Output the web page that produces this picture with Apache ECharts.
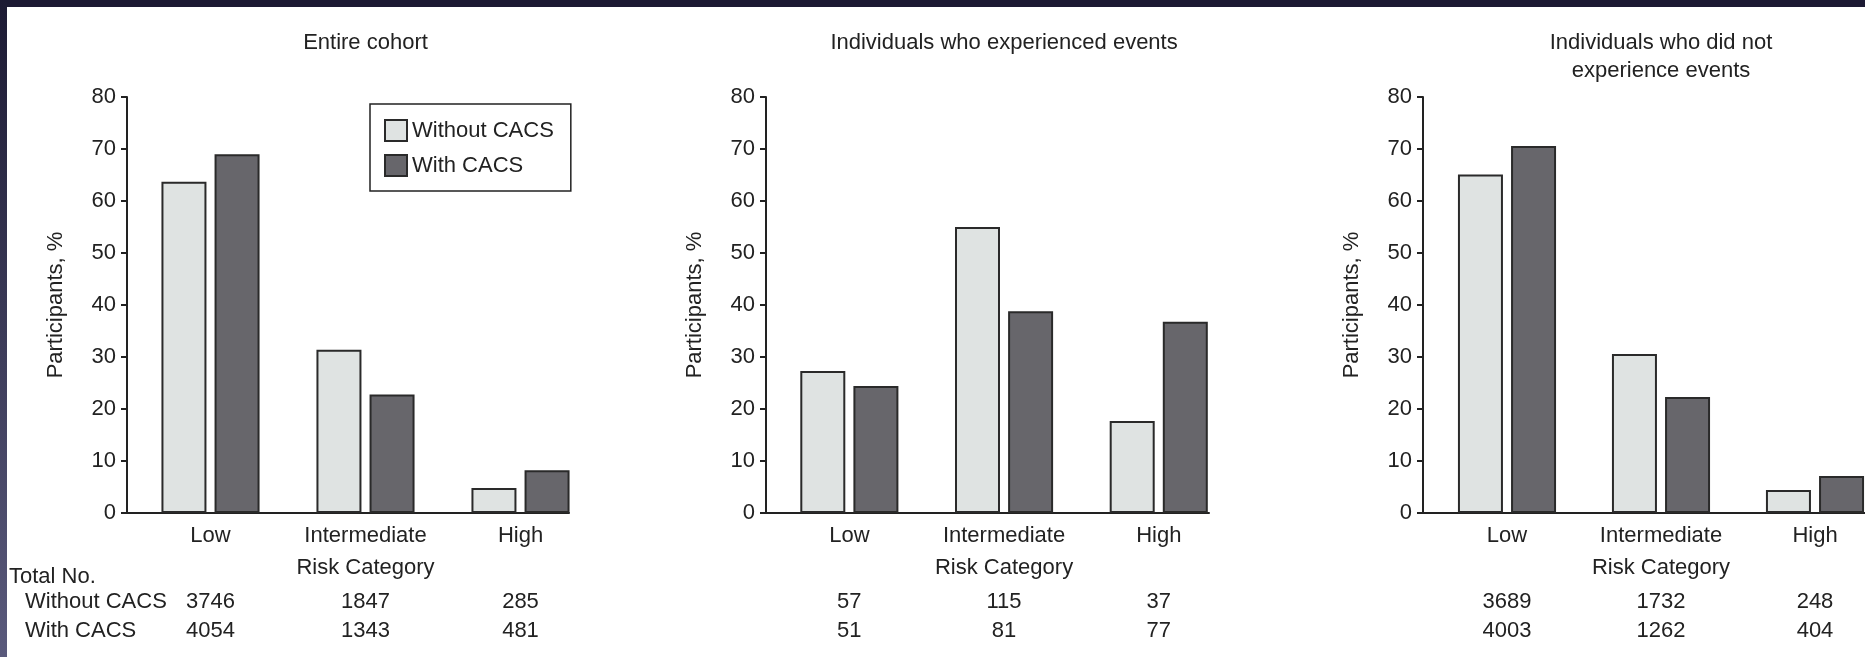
<!DOCTYPE html>
<html>
<head>
<meta charset="utf-8">
<script src="https://cdn.jsdelivr.net/npm/echarts@6/dist/echarts.min.js"></script>
<style>
  html, body { margin: 0; padding: 0; background: #ffffff; }
  #chart { width: 1865px; height: 657px; }
</style>
</head>
<body>
<div id="chart"></div>
<script>
// ---- data ----
const categories = ['Low', 'Intermediate', 'High'];
const seriesNames = ['Without CACS', 'With CACS'];
const panelTitles = [
  'Entire cohort',
  'Individuals who experienced events',
  'Individuals who did not\nexperience events'
];

// Participants, % by risk category
const entireWithout = [63.7, 31.4, 4.8];
const entireWith = [69.0, 22.8, 8.2];
const eventsWithout = [27.3, 55.0, 17.7];
const eventsWith = [24.4, 38.8, 36.8];
const noEventsWithout = [65.1, 30.6, 4.4];
const noEventsWith = [70.6, 22.3, 7.1];

// Total No. by risk category
const entireCountWithout = [3746, 1847, 285];
const entireCountWith = [4054, 1343, 481];
const eventsCountWithout = [57, 115, 37];
const eventsCountWith = [51, 81, 77];
const noEventsCountWithout = [3689, 1732, 248];
const noEventsCountWith = [4003, 1262, 404];

// y axis ticks
const yMin = 0;
const yMax = 80;
const yStep = 10;

const panelValues = [
  [entireWithout, entireWith],
  [eventsWithout, eventsWith],
  [noEventsWithout, noEventsWith]
];
const panelCounts = [
  [entireCountWithout, entireCountWith],
  [eventsCountWithout, eventsCountWith],
  [noEventsCountWithout, noEventsCountWith]
];

// ---- layout & style ----
const FONT = "'Liberation Sans', Arial, Helvetica, sans-serif";
const INK = '#222222';
const LIGHT = '#dfe3e2';
const DARK = '#67666b';
const EDGE = '#2a2a2a';
const plotTop = 97;
const plotHeight = 416;

const panels = [
  { axisX: 127, bandStart: 133, bandWidth: 155, lineEnd: 569 },
  { axisX: 766, bandStart: 772, bandWidth: 154.7, lineEnd: 1209 },
  { axisX: 1423, bandStart: 1430, bandWidth: 154, lineEnd: 1865 }
];

const grid = [];
const xAxis = [];
const yAxis = [];
const series = [];
const title = [];

panels.forEach((p, i) => {
  const frameGrid = grid.length;
  grid.push({ left: p.axisX, top: plotTop, width: p.lineEnd - p.axisX, height: plotHeight,
              containLabel: false, outerBoundsMode: 'none' });
  const barGrid = grid.length;
  grid.push({ left: p.bandStart, top: plotTop, width: p.bandWidth * 3, height: plotHeight,
              containLabel: false, outerBoundsMode: 'none' });

  // frame: baseline + value axis
  xAxis.push({
    gridIndex: frameGrid, type: 'value', min: 0, max: 1,
    axisLine: { show: true, onZero: false, lineStyle: { color: INK, width: 2 } },
    axisTick: { show: false }, axisLabel: { show: false }, splitLine: { show: false }
  });
  yAxis.push({
    gridIndex: frameGrid, type: 'value', min: yMin, max: yMax, interval: yStep,
    name: 'Participants, %', nameLocation: 'middle', nameGap: 71, nameRotate: 90,
    nameTextStyle: { fontFamily: FONT, fontSize: 22, color: INK, verticalAlign: 'middle' },
    axisLine: { show: true, lineStyle: { color: INK, width: 2 } },
    axisTick: { show: true, inside: false, length: 6, lineStyle: { color: INK, width: 2 } },
    axisLabel: { show: true, margin: 11, fontFamily: FONT, fontSize: 22, color: INK },
    splitLine: { show: false }
  });

  // categories
  const catAxis = xAxis.length;
  xAxis.push({
    gridIndex: barGrid, type: 'category', data: categories, boundaryGap: true,
    name: 'Risk Category', nameLocation: 'middle', nameGap: 55,
    nameTextStyle: { fontFamily: FONT, fontSize: 22, color: INK, verticalAlign: 'middle' },
    axisLine: { show: false }, axisTick: { show: false },
    axisLabel: { interval: 0, margin: 23, verticalAlign: 'middle', fontFamily: FONT, fontSize: 22, color: INK }
  });
  // total-number rows
  [[panelCounts[i][0], 89], [panelCounts[i][1], 118]].forEach(([counts, off]) => {
    xAxis.push({
      gridIndex: barGrid, type: 'category', data: counts.map(String), position: 'bottom', offset: off,
      axisLine: { show: false }, axisTick: { show: false },
      axisLabel: { interval: 0, margin: 0, verticalAlign: 'middle', fontFamily: FONT, fontSize: 22, color: INK }
    });
  });

  const valAxis = yAxis.length;
  yAxis.push({ gridIndex: barGrid, type: 'value', min: yMin, max: yMax, interval: yStep, show: false });

  series.push({
    type: 'bar', name: seriesNames[0], xAxisIndex: catAxis, yAxisIndex: valAxis,
    data: panelValues[i][0], barWidth: 45, barGap: '18%', silent: true,
    itemStyle: { color: LIGHT, borderColor: EDGE, borderWidth: 2 }
  });
  series.push({
    type: 'bar', name: seriesNames[1], xAxisIndex: catAxis, yAxisIndex: valAxis,
    data: panelValues[i][1], barWidth: 45, barGap: '18%', silent: true,
    itemStyle: { color: DARK, borderColor: EDGE, borderWidth: 2 }
  });

  title.push({
    text: panelTitles[i], left: p.bandStart + p.bandWidth * 1.5, top: 29, textAlign: 'center', padding: 0,
    textStyle: { fontFamily: FONT, fontSize: 22, fontWeight: 'normal', color: INK, lineHeight: 28 }
  });
});

const option = {
  backgroundColor: '#ffffff',
  animation: false,
  title: title,
  legend: {
    data: seriesNames, orient: 'vertical', left: 370, top: 104,
    padding: [15, 17, 14, 14], itemWidth: 22, itemHeight: 21, itemGap: 12, icon: 'rect',
    borderColor: INK, borderWidth: 1.5, selectedMode: false,
    textStyle: { fontFamily: FONT, fontSize: 22, color: INK }
  },
  grid: grid,
  xAxis: xAxis,
  yAxis: yAxis,
  series: series,
  graphic: [
    { type: 'rect', left: 0, top: 0, silent: true, shape: { width: 1865, height: 7 }, style: { fill: '#1c1a33' } },
    { type: 'rect', left: 0, top: 0, silent: true, shape: { width: 7, height: 657 },
      style: { fill: new echarts.graphic.LinearGradient(0, 0, 0, 1, [
        { offset: 0, color: '#1c1a33' }, { offset: 1, color: '#5a5a7c' }]) } },
    { type: 'text', x: 9, y: 577, silent: true,
      style: { text: 'Total No.', font: '22px ' + FONT, fill: INK, align: 'left', verticalAlign: 'middle' } },
    { type: 'text', x: 25, y: 602, silent: true,
      style: { text: 'Without CACS', font: '22px ' + FONT, fill: INK, align: 'left', verticalAlign: 'middle' } },
    { type: 'text', x: 25, y: 631, silent: true,
      style: { text: 'With CACS', font: '22px ' + FONT, fill: INK, align: 'left', verticalAlign: 'middle' } }
  ]
};

const chart = echarts.init(document.getElementById('chart'), null, { renderer: 'canvas' });
chart.setOption(option);
</script>
</body>
</html>
